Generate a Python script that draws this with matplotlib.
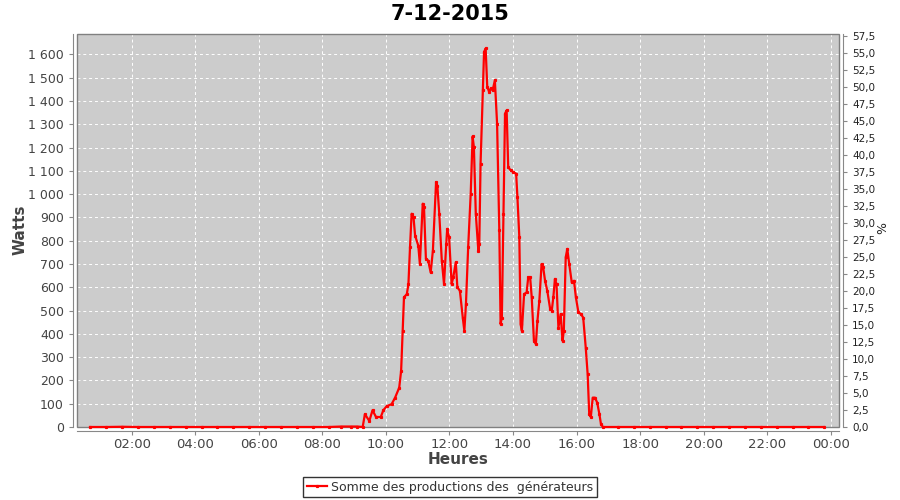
import matplotlib
matplotlib.use("Agg")
import matplotlib.pyplot as plt
from matplotlib.ticker import FuncFormatter, MultipleLocator
from matplotlib.patches import Rectangle

# production readings (hour of day, watts)
hours_night = [0.69, 1.2, 1.7, 2.2, 2.7, 3.2, 3.7, 4.2, 4.7, 5.2, 5.7, 6.2, 6.7,
               7.2, 7.7, 8.2, 8.6, 8.9, 9.1, 9.27]
watts_night = [0, 0, 1, 0, 0, 0, 0, 0, 0, 0, 0, 0, 0, 0, 0, 0, 2, 2, 2, 0]

hours_day = [9.34, 9.48, 9.58, 9.69, 9.84, 9.92, 10.03, 10.18, 10.29, 10.42, 10.48,
             10.53, 10.57, 10.66, 10.71, 10.76, 10.81, 10.87, 10.92, 11.02, 11.07,
             11.16, 11.2, 11.26, 11.33, 11.41, 11.48, 11.58, 11.62, 11.68, 11.76,
             11.83, 11.9, 11.93, 11.99, 12.07, 12.12, 12.2, 12.25, 12.33, 12.42,
             12.47, 12.52, 12.59, 12.67, 12.73, 12.77, 12.83, 12.91, 12.94, 12.98,
             13.05, 13.09, 13.14, 13.19, 13.25, 13.3, 13.36, 13.43, 13.5, 13.57,
             13.61, 13.65, 13.7, 13.75, 13.8, 13.85, 13.93, 14.01, 14.1, 14.14,
             14.2, 14.24, 14.28, 14.35, 14.43, 14.48, 14.54, 14.59, 14.66, 14.72,
             14.77, 14.83, 14.9, 14.95, 15.01, 15.08, 15.17, 15.22, 15.27, 15.32,
             15.37, 15.43, 15.5, 15.56, 15.6, 15.66, 15.71, 15.77, 15.85, 15.92,
             15.98, 16.06, 16.14, 16.21, 16.29, 16.35, 16.4, 16.45, 16.51, 16.58,
             16.65, 16.72, 16.77, 16.83]
watts_day = [55, 26, 72, 43, 43, 72, 90, 98, 126, 169, 241,
             413, 557, 571, 614, 772, 916, 901, 822, 779, 700,
             959, 944, 722, 715, 664, 758, 1052, 1037, 916, 715,
             614, 786, 851, 815, 614, 643, 707, 600, 585, 470,
             413, 528, 772, 1002, 1248, 1202, 916, 758, 786, 1131,
             1446, 1611, 1626, 1462, 1439, 1454, 1446, 1489, 1303, 844,
             442, 470, 916, 1346, 1360, 1116, 1102, 1095, 1088, 987,
             815, 442, 413, 571, 578, 643, 643, 557, 370, 356,
             456, 542, 700, 686, 628, 585, 507, 499, 557, 636,
             614, 427, 485, 370, 413, 729, 765, 700, 621, 628,
             557, 492, 485, 470, 341, 227, 55, 43, 126, 126,
             105, 55, 12, 0]

hours_evening = [17.3, 17.8, 18.3, 18.8, 19.3, 19.8, 20.3, 20.8, 21.3, 21.8,
                 22.3, 22.8, 23.3, 23.79]
watts_evening = [0, 0, 0, 0, 0, 0, 0, 0, 0, 0, 0, 0, 0, 0]

hour_ticks = [2, 4, 6, 8, 10, 12, 14, 16, 18, 20, 22, 24]
watts_per_percent = 29.2

hours = hours_night + hours_day + hours_evening
watts = watts_night + watts_day + watts_evening

plt.rcParams["font.family"] = "DejaVu Sans"

fig = plt.figure(figsize=(9, 5), dpi=100)
ax = fig.add_axes([77 / 900, 73 / 500, 762 / 900, 393 / 500])
ax.set_facecolor("#cccccc")

line, = ax.plot(hours, watts, color="#ff0000", lw=1.6, marker="s", ms=1.3,
                label="Somme des productions des  générateurs", zorder=5)
line.set_clip_on(False)

ax.set_xlim(0.28, 24.26)
ax.set_ylim(0, 1688)
ax.set_xticks(hour_ticks)
ax.xaxis.set_major_formatter(FuncFormatter(lambda v, p: "%02d:00" % (int(round(v)) % 24)))
ax.yaxis.set_major_locator(MultipleLocator(100))
ax.yaxis.set_major_formatter(FuncFormatter(lambda v, p: f"{v:,.0f}".replace(",", " ")))
ax.grid(True, color="white", ls=(0, (3, 3)), lw=0.7)
ax.set_axisbelow(True)

# axis lines sit a few pixels off the plot area, outline drawn separately
for s in ["left", "bottom"]:
    ax.spines[s].set_position(("outward", 3))
    ax.spines[s].set_color("#888888")
for s in ["right", "top"]:
    ax.spines[s].set_visible(False)
ax.add_patch(Rectangle((0, 0), 1, 1, transform=ax.transAxes, fill=False,
                       ec="#808080", lw=1.0, clip_on=False, zorder=4))
ax.tick_params(colors="#888888", labelcolor="#444444", labelsize=9, length=3)
ax.tick_params(axis="x", labelsize=9.5, pad=2)

ax2 = ax.twinx()
ax2.set_ylim(0, 1688 / watts_per_percent)
ax2.yaxis.set_major_locator(MultipleLocator(2.5))
ax2.yaxis.set_major_formatter(FuncFormatter(lambda v, p: f"{v:.1f}".replace(".", ",")))
for s in ["left", "bottom", "top"]:
    ax2.spines[s].set_visible(False)
ax2.spines["right"].set_position(("outward", 3))
ax2.spines["right"].set_color("#888888")
ax2.tick_params(colors="#888888", labelcolor="#222222", labelsize=7.5, length=3)
ax2.set_zorder(ax.get_zorder() - 1)
ax.patch.set_visible(True)

fig.text(0.5, 0.972, "7-12-2015", ha="center", va="center", fontsize=15, fontweight="bold")
fig.text(20 / 900, 0.54, "Watts", rotation=90, ha="center", va="center",
         fontsize=11, fontweight="bold", color="#444444")
fig.text(458 / 900, 1 - 460 / 500, "Heures", ha="center", va="center",
         fontsize=11, fontweight="bold", color="#444444")
fig.text(883 / 900, 1 - 228 / 500, "%", rotation=90, ha="center", va="center",
         fontsize=9, color="#222222")

leg = fig.legend(loc="center", bbox_to_anchor=(0.5, 1 - 487 / 500), fontsize=9,
                 frameon=True, fancybox=False, edgecolor="black", handlelength=1.6,
                 borderpad=0.3, handletextpad=0.3)
leg.get_frame().set_linewidth(1.0)
for t in leg.get_texts():
    t.set_color("#333333")

fig.savefig("out.png", dpi=100)
